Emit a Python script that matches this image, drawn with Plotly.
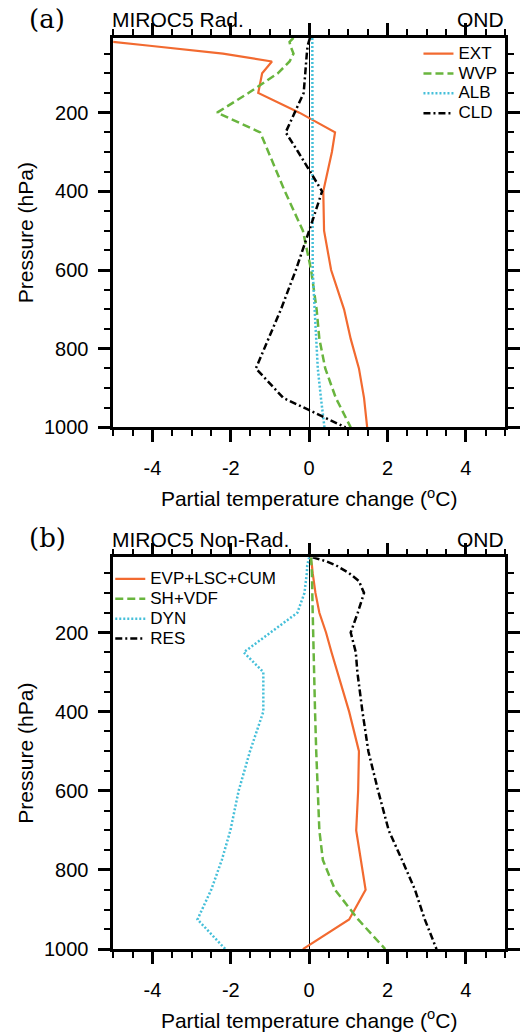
import plotly.graph_objects as go

# Pressure levels (hPa)
levels = [10, 20, 30, 50, 70, 100, 150, 200, 250, 300, 400, 500, 600, 700, 775, 850, 925, 1000]

# Panel (a): radiative terms (partial temperature change, degC)
ext = [-6.0, -4.95, -4.07, -2.2, -0.95, -1.2, -1.3, -0.25, 0.66, 0.58, 0.36, 0.38, 0.56, 0.89, 1.06, 1.27, 1.4, 1.48]
wvp = [-0.4, -0.5, -0.48, -0.4, -0.5, -0.8, -1.55, -2.35, -1.25, -1.04, -0.62, -0.16, 0.05, 0.19, 0.26, 0.41, 0.68, 1.06]
alb = [0.08, 0.08, 0.08, 0.08, 0.08, 0.08, 0.08, 0.08, 0.08, 0.08, 0.09, 0.08, 0.09, 0.14, 0.18, 0.22, 0.30, 0.39]
cld = [0.02, -0.02, -0.04, -0.06, -0.08, -0.1, -0.14, -0.36, -0.6, -0.28, 0.33, 0.0, -0.34, -0.72, -1.04, -1.36, -0.66, 0.93]

# Panel (b): non-radiative terms
evp = [0.03, 0.05, 0.07, 0.09, 0.12, 0.16, 0.26, 0.43, 0.57, 0.72, 1.02, 1.27, 1.25, 1.2, 1.32, 1.44, 1.02, -0.16]
shv = [0.05, 0.05, 0.06, 0.07, 0.08, 0.08, 0.09, 0.1, 0.11, 0.12, 0.15, 0.18, 0.22, 0.26, 0.35, 0.66, 1.25, 1.94]
dyn = [0.0, -0.03, -0.05, -0.06, -0.09, -0.12, -0.3, -1.0, -1.67, -1.17, -1.17, -1.51, -1.8, -2.01, -2.23, -2.5, -2.85, -2.14]
res = [0.09, 0.43, 0.68, 1.02, 1.27, 1.4, 1.24, 1.06, 1.19, 1.23, 1.36, 1.51, 1.76, 2.03, 2.37, 2.70, 2.95, 3.25]

names_a = ["EXT", "WVP", "ALB", "CLD"]
names_b = ["EVP+LSC+CUM", "SH+VDF", "DYN", "RES"]

# Tick labels
xtick_vals = [-4, -2, 0, 2, 4]
xtick_text = ["-4", "-2", "0", "2", "4"]
ytick_vals = [200, 400, 600, 800, 1000]
ytick_text = ["200", "400", "600", "800", "1000"]

ORANGE = "#F26A30"
GREEN = "#69B53E"
CYAN = "#45BFD9"
BLACK = "#000000"
styles = [
    dict(color=ORANGE, width=2.2, dash="solid"),
    dict(color=GREEN, width=2.5, dash="8px,4px"),
    dict(color=CYAN, width=2.5, dash="2px,2px"),
    dict(color=BLACK, width=2.5, dash="7px,3px,2px,3px"),
]

SANS = "Liberation Sans, Arial, Helvetica, sans-serif"
SERIF = "DejaVu Serif, serif"
LEG_TXT = 17


def leg_name(s):
    return "<span style='font-size:%dpx'>%s</span>" % (LEG_TXT, s)


fig = go.Figure()
for name, vals, st in zip(names_a, [ext, wvp, alb, cld], styles):
    fig.add_trace(go.Scatter(x=vals, y=levels, mode="lines", name=leg_name(name), line=st,
                             xaxis="x", yaxis="y", legend="legend", hoverinfo="x+y"))
for name, vals, st in zip(names_b, [evp, shv, dyn, res], styles):
    fig.add_trace(go.Scatter(x=vals, y=levels, mode="lines", name=leg_name(name), line=st,
                             xaxis="x2", yaxis="y2", legend="legend2", hoverinfo="x+y"))

W, H = 520, 1036
xdom = [115 / W, 513 / W]
ydom_a = [1 - 432 / H, 1 - 38.3 / H]
ydom_b = [1 - 959.3 / H, 1 - 563.3 / H]

common = dict(showline=True, linecolor="black", linewidth=2.5, mirror="allticks",
              ticks="outside", ticklen=12, tickwidth=2.5, tickcolor="black",
              showgrid=False,
              tickfont=dict(family=SANS, size=20, color="black"),
              minor=dict(ticks="outside", ticklen=6, tickwidth=1.8, tickcolor="black", showgrid=False))

xcommon = dict(common, range=[-5, 5], tickmode="array", tickvals=xtick_vals, ticktext=xtick_text,
               zeroline=True, zerolinecolor="black", zerolinewidth=1.2, ticklabelstandoff=9,
               title=dict(text="Partial temperature change (<sup>o</sup>C)",
                          font=dict(family=SANS, size=21, color="black"), standoff=14))
xcommon["minor"] = dict(common["minor"], dtick=0.5, tick0=0)
ycommon = dict(common, range=[1000, 10], tickmode="array", tickvals=ytick_vals, ticktext=ytick_text,
               zeroline=False, ticklabelstandoff=6,
               title=dict(text="Pressure (hPa)", font=dict(family=SANS, size=21, color="black"), standoff=5))
ycommon["minor"] = dict(common["minor"], dtick=50, tick0=0)

fig.update_layout(
    width=W, height=H,
    margin=dict(l=0, r=0, t=0, b=0),
    paper_bgcolor="white", plot_bgcolor="white",
    font=dict(family=SANS, color="black"),
    xaxis=dict(xcommon, domain=xdom, anchor="y"),
    yaxis=dict(ycommon, domain=ydom_a, anchor="x"),
    xaxis2=dict(xcommon, domain=xdom, anchor="y2"),
    yaxis2=dict(ycommon, domain=ydom_b, anchor="x2"),
    legend=dict(x=425 / W, y=1 - 39 / H, xanchor="left", yanchor="top",
                bgcolor="rgba(0,0,0,0)", font=dict(family=SANS, size=13, color="black"),
                itemwidth=30, tracegroupgap=0),
    legend2=dict(x=112 / W, y=1 - 570 / H, xanchor="left", yanchor="top",
                 bgcolor="rgba(0,0,0,0)", font=dict(family=SANS, size=13, color="black"),
                 itemwidth=30, tracegroupgap=0),
    showlegend=True,
)

ann = []
for (lab, title, yc) in [("(a)", "MIROC5 Rad.", 19), ("(b)", "MIROC5 Non-Rad.", 544)]:
    ann.append(dict(text=lab, x=48 / W, y=1 - yc / H, xref="paper", yref="paper",
                    xanchor="center", yanchor="middle", showarrow=False,
                    font=dict(family=SERIF, size=26, color="black")))
    ann.append(dict(text=title, x=112 / W, y=1 - (yc + 1) / H, xref="paper", yref="paper",
                    xanchor="left", yanchor="middle", showarrow=False,
                    font=dict(family=SANS, size=21, color="black")))
    ann.append(dict(text="OND", x=514 / W, y=1 - (yc + 1) / H, xref="paper", yref="paper",
                    xanchor="right", yanchor="middle", showarrow=False,
                    font=dict(family=SANS, size=21, color="black")))
fig.update_layout(annotations=ann)

fig.write_html("out.html",
               config={"displayModeBar": False},
               post_script="document.body.style.margin='0';document.body.style.overflow='hidden';")
